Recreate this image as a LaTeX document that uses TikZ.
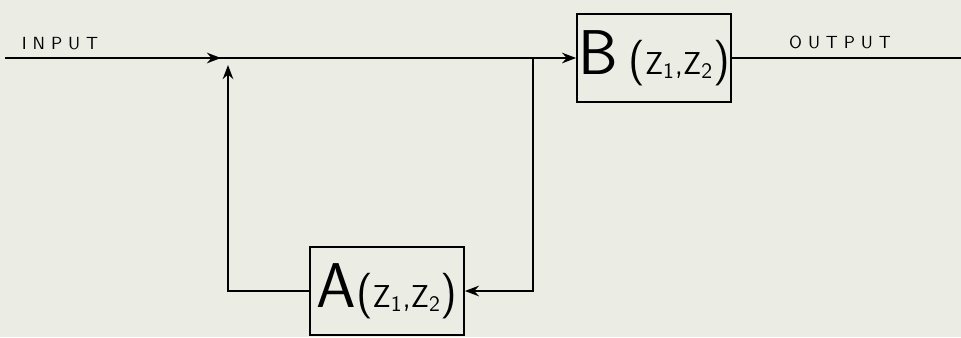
\documentclass[tikz,border=0pt]{standalone}
\usepackage{tikz}
\usetikzlibrary{positioning, arrows, arrows.meta}
\definecolor{paper}{RGB}{235,236,228}
\tikzset{
    every picture/.style={font=\sffamily},
    blk/.style={ % the two transfer blocks
        draw,
        line width=1pt,
        minimum width=3.08cm,
        minimum height=1.76cm,
        inner sep=0pt
    },
    sig/.style={ % signal lines
        draw,
        line width=1.2pt,
        >={Stealth[length=8pt,width=6pt]}
    },
    lbl/.style={font=\sffamily\fontsize{10}{10}\selectfont}
}
\newcommand{\blkletter}[1]{{\fontsize{36}{36}\selectfont #1}}
\newcommand{\zarg}{{\fontsize{26}{26}\selectfont(}{\fontsize{18}{18}\selectfont Z\textsubscript{1},Z\textsubscript{2}}{\fontsize{26}{26}\selectfont)}}

\begin{document}
\begin{tikzpicture}
        \fill[paper] (0,0) rectangle (19.22,6.74);
        \useasboundingbox (0,0) rectangle (19.22,6.74);
        % hauptzweig
        \coordinate (in)  at (0.1,5.58);
        \coordinate (sum) at (4.56,5.58);
        \coordinate (tap) at (10.66,5.58);
        \coordinate (out) at (19.22,5.58);
        \node[blk] (B) at (13.08,5.58) {\blkletter{B}\hspace{6pt}\zarg};
        % rueckfuehrung
        \node[blk] (A) at (7.74,0.92)  {\blkletter{A}\zarg};
        % beschriftung
        \node[lbl] (inlbl)  at (1.2,5.86)  {I N P U T};
        \node[lbl] (outlbl) at (16.8,5.9)  {O U T P U T};

        \draw[sig,->] (in) -- (sum) -- (tap) -- (B.west);
        \draw[sig,->] (in) -- ([xshift=-4pt]sum);
        \draw[sig,->] (A.west) -| ([yshift=-4pt]sum);
        \draw[sig,->] (tap) |- (A.east);
        \draw[sig]    (B.east) -- (out);
\end{tikzpicture}
\end{document}
